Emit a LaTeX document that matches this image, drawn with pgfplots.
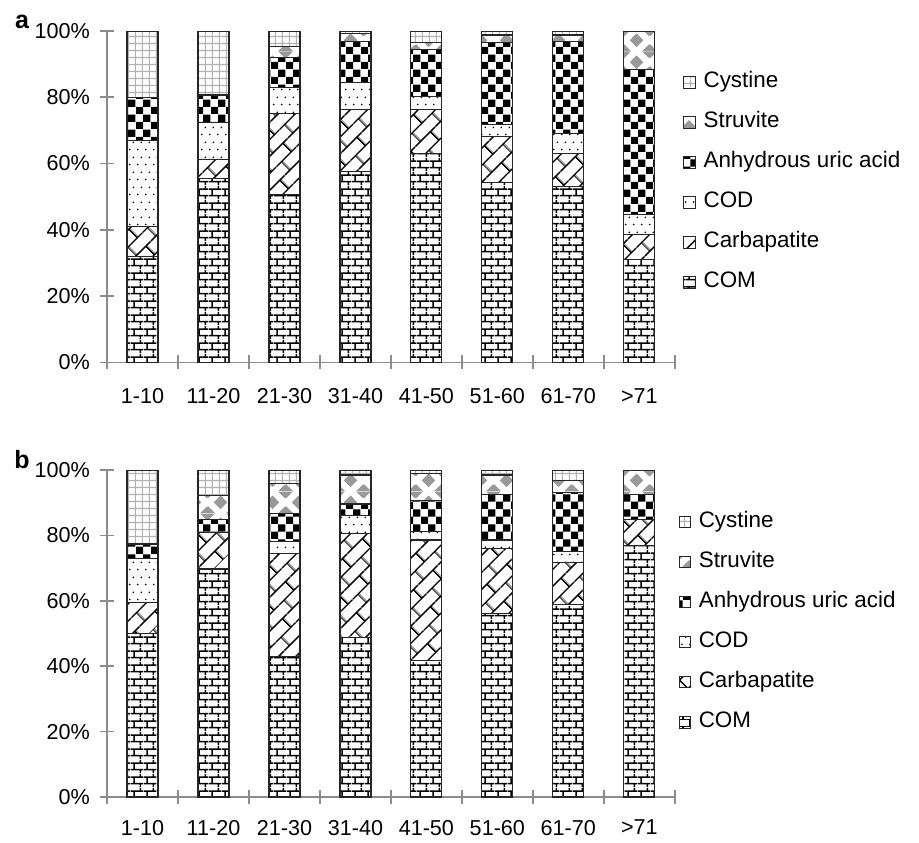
\documentclass[border=0pt]{standalone}
\usepackage{fontspec}
\setmainfont{Liberation Sans}
\usepackage{pgfplots}
\usepackage{pgfplotstable}
\pgfplotsset{compat=1.18}
\usetikzlibrary{patterns,patterns.meta}

\tikzdeclarepattern{name=combricks, type=uncolored,
  bounding box={(0pt,0pt) and (6.6pt,7pt)}, tile size={(6.6pt,7pt)},
  code={\draw[line width=0.8pt] (0pt,1.75pt)--(6.6pt,1.75pt) (0pt,5.25pt)--(6.6pt,5.25pt)
     (1.65pt,1.75pt)--(1.65pt,5.25pt) (4.95pt,5.25pt)--(4.95pt,7pt) (4.95pt,0pt)--(4.95pt,1.75pt);}}
\tikzdeclarepattern{name=diagbricks, type=uncolored,
  bounding box={(0pt,0pt) and (14pt,12pt)}, tile size={(14pt,12pt)},
  tile transformation={rotate=45},
  code={\draw[line width=0.75pt] (0pt,3pt)--(14pt,3pt) (0pt,9pt)--(14pt,9pt)
     (3.5pt,3pt)--(3.5pt,9pt) (10.5pt,9pt)--(10.5pt,12pt) (10.5pt,0pt)--(10.5pt,3pt);}}
\tikzdeclarepattern{name=coddots, type=uncolored,
  bounding box={(0pt,0pt) and (4pt,7.5pt)}, tile size={(4pt,7.5pt)},
  code={\fill (1pt,1.875pt) circle (0.5pt) (3pt,5.625pt) circle (0.5pt);}}
\tikzdeclarepattern{name=uricchecker, type=uncolored,
  bounding box={(0pt,0pt) and (7.6pt,7.6pt)}, tile size={(7.6pt,7.6pt)},
  code={\fill (0pt,0pt) rectangle (3.8pt,3.8pt) (3.8pt,3.8pt) rectangle (7.6pt,7.6pt);}}
\tikzdeclarepattern{name=struvdiam, type=colored,
  bounding box={(0pt,0pt) and (13pt,11pt)}, tile size={(13pt,11pt)},
  code={\fill[black!40] (6.5pt,2pt)--(10pt,5.5pt)--(6.5pt,9pt)--(3pt,5.5pt)--cycle;
    \fill[black!40] (0pt,0pt)--(3.5pt,0pt)--(0pt,3.5pt)--cycle;
    \fill[black!40] (13pt,0pt)--(9.5pt,0pt)--(13pt,3.5pt)--cycle;
    \fill[black!40] (0pt,11pt)--(3.5pt,11pt)--(0pt,7.5pt)--cycle;
    \fill[black!40] (13pt,11pt)--(9.5pt,11pt)--(13pt,7.5pt)--cycle;}}
\tikzdeclarepattern{name=cysgrid, type=colored,
  bounding box={(0pt,0pt) and (3.7pt,3.7pt)}, tile size={(3.7pt,3.7pt)},
  code={\draw[black!30, line width=0.6pt] (0pt,1.85pt)--(3.7pt,1.85pt) (1.85pt,0pt)--(1.85pt,3.7pt);}}

\pgfplotstableread{
x COM Carb COD Uric Struv Cyst
0 32.0 9.0 26.0 13.0 0.0 20.0
1 55.4 5.9 11.1 8.3 0.0 19.3
2 50.6 24.4 8.0 9.1 3.2 4.7
3 57.6 18.8 8.0 12.4 2.5 0.7
4 63.0 13.2 4.0 14.3 2.1 3.4
5 54.3 13.9 3.5 24.8 2.3 1.2
6 53.0 10.0 6.0 27.8 2.0 1.2
7 31.0 7.6 6.0 43.8 11.6 0.0
}\tableA

\pgfplotstableread{
x COM Carb COD Uric Struv Cyst
0 50.1 9.4 13.4 4.5 0.0 22.6
1 69.7 11.2 0.0 4.0 7.2 7.9
2 43.0 31.4 3.7 8.7 9.1 4.1
3 48.8 31.7 5.5 3.6 8.9 1.5
4 41.7 36.9 2.6 9.4 8.4 1.0
5 56.0 20.1 2.5 13.8 6.1 1.5
6 58.8 12.9 3.4 18.0 3.6 3.3
7 76.8 8.1 0.0 7.5 7.6 0.0
}\tableB

\pgfplotsset{
  panel/.style={
    scale only axis, width=283.9pt, xmin=-0.5, xmax=7.5, ymin=0, ymax=100,
    axis lines=left, axis line style={-, draw=black!45, line width=0.8pt},
    tick style={draw=black!45, line width=0.8pt}, tick align=center, major tick length=7pt,
    xtick={-0.5,0.5,...,7.5}, xticklabels={},
    extra x ticks={0,1,...,7},
    extra x tick labels={1-10,11-20,21-30,31-40,41-50,51-60,61-70,{>71}},
    extra x tick style={major tick length=0pt},
    xticklabel style={yshift=-9.5pt},
    ytick={0,20,...,100}, yticklabel={\pgfmathprintnumber{\tick}\%},
    yticklabel style={xshift=-1.5pt},
    ticklabel style={font=\fontsize{10.8}{12}\selectfont},
    /pgf/number format/assume math mode=true,
    ybar stacked, bar width=15.5pt,
    legend cell align=left, reverse legend,
    legend style={draw=none, fill=none, inner sep=0pt, anchor=west,
      font=\fontsize{11.2}{13}\selectfont, row sep=9.5pt, column sep=4pt,
      nodes={inner sep=0pt, text height=8pt, text depth=2.5pt}},
    legend image code/.code={\draw[##1, line width=0.5pt] (0pt,-2.8pt) rectangle (5.6pt,2.8pt);},
  },
  seg/.style={draw=black!85, line width=0.6pt},
}

\begin{document}
\begin{tikzpicture}
\path (0pt,0pt) rectangle (459.5pt,-419pt);
\node[font=\bfseries\fontsize{12.5}{14}\selectfont] at (11pt,-11pt) {a};
\node[font=\bfseries\fontsize{12.5}{14}\selectfont] at (11pt,-230pt) {b};

\begin{axis}[panel, at={(53.5pt,-181.2pt)}, anchor=south west, height=165.7pt,
  legend style={at={(1.0144,0.543)}}]
\addplot[seg, pattern=combricks] table[x=x,y=COM]{\tableA};
\addplot[seg, pattern=diagbricks] table[x=x,y=Carb]{\tableA};
\addplot[seg, pattern=coddots] table[x=x,y=COD]{\tableA};
\addplot[seg, pattern=uricchecker] table[x=x,y=Uric]{\tableA};
\addplot[seg, pattern=struvdiam] table[x=x,y=Struv]{\tableA};
\addplot[seg, pattern=cysgrid] table[x=x,y=Cyst]{\tableA};
\legend{COM,Carbapatite,COD,Anhydrous uric acid,Struvite,Cystine}
\end{axis}

\begin{axis}[panel, at={(53.5pt,-398.5pt)}, anchor=south west, height=163.5pt,
  xticklabel style={yshift=1.5pt},
  legend style={at={(1.006,0.534)}}]
\addplot[seg, pattern=combricks] table[x=x,y=COM]{\tableB};
\addplot[seg, pattern=diagbricks] table[x=x,y=Carb]{\tableB};
\addplot[seg, pattern=coddots] table[x=x,y=COD]{\tableB};
\addplot[seg, pattern=uricchecker] table[x=x,y=Uric]{\tableB};
\addplot[seg, pattern=struvdiam] table[x=x,y=Struv]{\tableB};
\addplot[seg, pattern=cysgrid] table[x=x,y=Cyst]{\tableB};
\legend{COM,Carbapatite,COD,Anhydrous uric acid,Struvite,Cystine}
\end{axis}
\end{tikzpicture}
\end{document}
